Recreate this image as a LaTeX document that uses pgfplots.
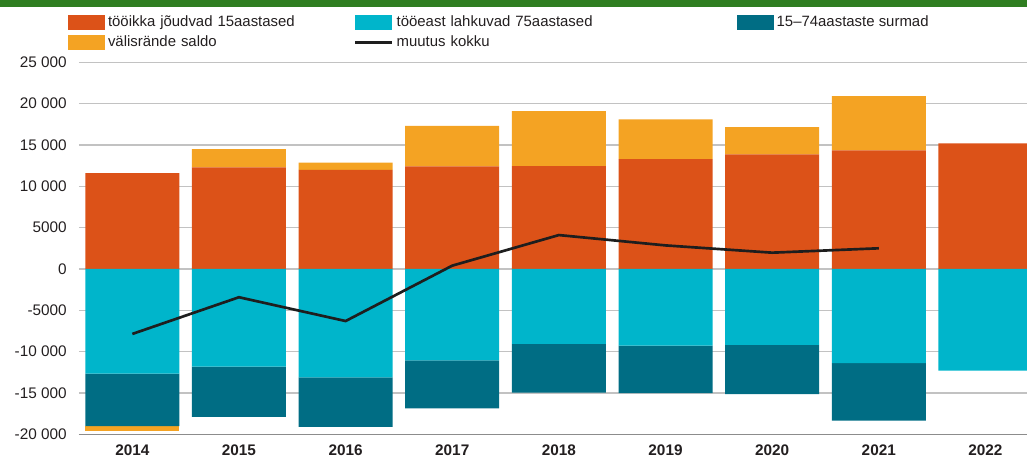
\documentclass[border=0pt]{standalone}
\usepackage{fontspec}
\setmainfont{Liberation Sans}
\usepackage{pgfplots}
\pgfplotsset{compat=1.18}

\definecolor{cOrange}{HTML}{DC5218}
\definecolor{cYellow}{HTML}{F4A323}
\definecolor{cCyan}{HTML}{00B5CB}
\definecolor{cDark}{HTML}{006D84}
\definecolor{cLine}{HTML}{1E1E1E}
\definecolor{cGreen}{HTML}{2F7E21}
\definecolor{cGrid}{HTML}{C2C2C2}
\definecolor{cAxis}{HTML}{8C8C8C}
\definecolor{cText}{HTML}{231F20}

\pgfplotsset{
  base/.style={
    at={(59.25pt,17.78pt)}, anchor=south west,
    scale only axis, width=711pt, height=279pt,
    xmin=-0.5, xmax=8.39, ymin=-20000, ymax=25000,
  },
  sq legend/.style={legend image code/.code={\fill[##1] (0pt,-5.625pt) rectangle (27.75pt,5.625pt);}},
  ln legend/.style={legend image code/.code={\draw[##1] (0pt,0pt) -- (27.75pt,0pt);}},
}

\begin{document}
\begin{tikzpicture}[x=0.75pt,y=0.75pt]
\useasboundingbox (0,0) rectangle (1027,458);
\fill[cGreen] (0,451) rectangle (1027,458);

% positive part: grid, axis, labels
\begin{axis}[base,
  ybar stacked, bar width=70.5pt,
  xtick={0,...,8}, xticklabels={2014,2015,2016,2017,2018,2019,2020,2021,2022},
  ytick={-20000,-15000,-10000,-5000,0,5000,10000,15000,20000,25000},
  yticklabels={-20 000,-15 000,-10 000,-5000,0,5000,10 000,15 000,20 000,25 000},
  scaled y ticks=false,
  ymajorgrids, grid style={cGrid, line width=1pt},
  axis x line*=bottom, axis y line*=left,
  y axis line style={draw=none},
  x axis line style={cAxis, line width=1.1pt},
  major tick length=0pt, tick style={draw=none},
  xticklabel style={font=\fontsize{11.5}{13}\selectfont\bfseries, text=cText, inner sep=0pt, anchor=north, yshift=-8pt},
  yticklabel style={font=\fontsize{11.5}{13}\selectfont, text=cText, inner sep=0pt, anchor=east, xshift=-9pt},
]
\addplot[fill=cOrange, draw=none] coordinates {
  (0,11600) (1,12300) (2,12000) (3,12400) (4,12450) (5,13300) (6,13850) (7,14350) (8,15200)};
\addplot[fill=cYellow, draw=none] coordinates {
  (0,0) (1,2200) (2,850) (3,4900) (4,6650) (5,4800) (6,3300) (7,6550) (8,0)};
\end{axis}

% negative part
\begin{axis}[base, hide axis, ybar stacked, bar width=70.5pt]
\addplot[fill=cCyan, draw=none] coordinates {
  (0,-12660) (1,-11800) (2,-13100) (3,-11050) (4,-9070) (5,-9270) (6,-9190) (7,-11400) (8,-12300)};
\addplot[fill=cDark, draw=none] coordinates {
  (0,-6340) (1,-6100) (2,-6000) (3,-5800) (4,-5880) (5,-5760) (6,-5960) (7,-6940) (8,0)};
\addplot[fill=cYellow, draw=none] coordinates {
  (0,-550) (1,0) (2,0) (3,0) (4,0) (5,0) (6,0) (7,0) (8,0)};
\end{axis}

% total change line and legend
\begin{axis}[base, hide axis,
  legend columns=3, legend cell align=left,
  legend style={at={(-0.0116,1.1272)}, anchor=north west, draw=none, fill=none,
    inner sep=0pt, outer sep=0pt, column sep=2.25pt, row sep=3.75pt,
    font=\fontsize{11.2}{13}\selectfont, text=cText, nodes={inner sep=0pt},
    /tikz/column 2/.style={text width=182.25pt},
    /tikz/column 4/.style={text width=252.75pt}},
]
\addplot[cLine, line width=2pt, mark=none, forget plot] coordinates {
  (0,-7860) (1,-3420) (2,-6300) (3,400) (4,4100) (5,2850) (6,1970) (7,2500)};
\addlegendimage{sq legend, fill=cOrange, draw=none}
\addlegendentry{tööikka jõudvad 15aastased}
\addlegendimage{sq legend, fill=cCyan, draw=none}
\addlegendentry{tööeast lahkuvad 75aastased}
\addlegendimage{sq legend, fill=cDark, draw=none}
\addlegendentry{15–74aastaste surmad}
\addlegendimage{sq legend, fill=cYellow, draw=none}
\addlegendentry{välisrände saldo}
\addlegendimage{ln legend, cLine, line width=2pt}
\addlegendentry{muutus kokku}
\end{axis}
\end{tikzpicture}
\end{document}
